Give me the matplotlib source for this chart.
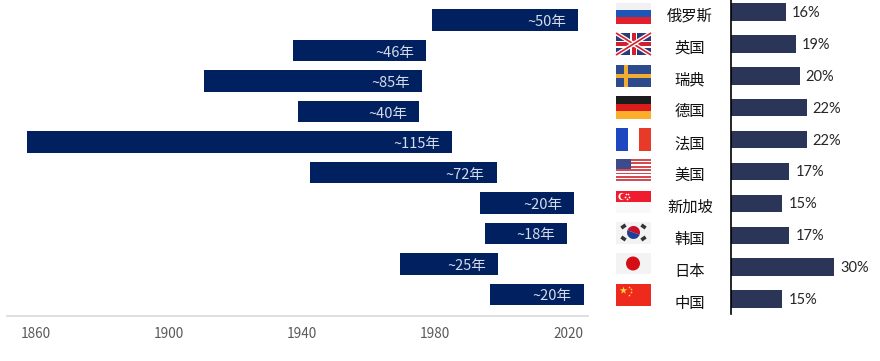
import matplotlib
matplotlib.use('Agg')
import matplotlib.pyplot as plt
import numpy as np
from matplotlib.patches import Rectangle, Circle, Wedge

plt.rcParams['font.family'] = ['Noto Sans CJK SC', 'DejaVu Sans']

# years each bar runs over, top to bottom
start_years = [1979.1, 1937.3, 1910.5, 1938.8, 1857.3, 1942.4, 1993.5, 1995.0, 1969.5, 1996.5]
end_years = [2023.0, 1977.3, 1976.1, 1975.2, 1985.1, 1998.6, 2021.8, 2019.7, 1999.0, 2024.8]
span_labels = ['~50年', '~46年', '~85年', '~40年', '~115年', '~72年', '~20年', '~18年', '~25年', '~20年']
year_ticks = [1860, 1900, 1940, 1980, 2020]

countries = ['俄罗斯', '英国', '瑞典', '德国', '法国', '美国', '新加坡', '韩国', '日本', '中国']
shares = [16, 19, 20, 22, 22, 17, 15, 17, 30, 15]

W, H = 880, 361


def px_axes(fig, left, top, right, bottom):
    return fig.add_axes([left / W, 1 - bottom / H, (right - left) / W, (bottom - top) / H])


fig = plt.figure(figsize=(W / 100, H / 100), dpi=100)

# left: time spans
ax = px_axes(fig, 7, 5, 588, 316)
y = np.arange(len(start_years))
ax.barh(y, np.array(end_years) - np.array(start_years), left=start_years, height=0.69, color='#002060')
for i in y:
    ax.annotate(span_labels[i], (end_years[i], i), xytext=(-12, -2), textcoords='offset pixels',
                ha='right', va='center', color='#d5dbe8', fontsize=10.5, fontweight='light')
ax.set_xlim(1851.3, 2026)
ax.set_ylim(9.705, -0.492)
ax.set_xticks(year_ticks)
ax.set_yticks([])
ax.tick_params(axis='x', length=0, pad=8, labelsize=9.8, labelcolor='#595959')
for s in ['top', 'left', 'right']:
    ax.spines[s].set_visible(False)
ax.spines['bottom'].set_color('#d9d9d9')
ax.spines['bottom'].set_linewidth(1.2)

# right: shares
ax2 = px_axes(fig, 731, 0, 880, 314)
y2 = np.arange(len(shares))
ax2.barh(y2, shares, height=0.55, color='#2a3558')
for i in y2:
    ax2.annotate(f'{shares[i]}%', (shares[i], i), xytext=(6, -1), textcoords='offset pixels',
                 ha='left', va='center', color='#262626', fontsize=10.5, family='Lato')
    ax2.annotate(countries[i], (0, i), xytext=(-41, -4), textcoords='offset pixels',
                 ha='center', va='center', color='#111111', fontsize=11, fontweight='medium',
                 annotation_clip=False)
ax2.set_xlim(0, 43.4)
ax2.set_ylim(9.467, -0.376)
ax2.set_xticks([])
ax2.set_yticks([])
for s in ['top', 'bottom', 'right']:
    ax2.spines[s].set_visible(False)
ax2.spines['left'].set_color('black')
ax2.spines['left'].set_linewidth(1.2)

# flags, drawn in pixel coordinates
fl = px_axes(fig, 0, 0, W, H)
fl.set_xlim(0, W)
fl.set_ylim(H, 0)
fl.axis('off')
fl.patch.set_alpha(0)
L, R = 616, 651
FW = R - L


def rect(x, y, w, h, c):
    fl.add_patch(Rectangle((x, y), w, h, color=c, lw=0))


# russia
rect(L, 3, FW, 7, '#f1f1f4')
rect(L, 10, FW, 7, '#1d55b8')
rect(L, 17, FW, 7, '#e0202c')

# uk
rect(L, 33, FW, 22, '#2b3a78')
for a, b in [((L, 33), (R, 55)), ((L, 55), (R, 33))]:
    fl.plot([a[0], b[0]], [a[1], b[1]], color='white', lw=3.2, solid_capstyle='butt')
    fl.plot([a[0], b[0]], [a[1], b[1]], color='#d3202e', lw=1.2, solid_capstyle='butt')
rect(L + 14, 33, 7, 22, 'white')
rect(L, 40.5, FW, 7, 'white')
rect(L + 15.5, 33, 4, 22, '#d3202e')
rect(L, 42, FW, 4, '#d3202e')

# sweden
rect(L, 65, FW, 22, '#2d4a8c')
rect(L + 8, 65, 4, 22, '#f0ac33')
rect(L, 74, FW, 4, '#f0ac33')

# germany
rect(L, 96, FW, 7.5, '#1c1c1c')
rect(L, 103.5, FW, 7.5, '#dc1c1c')
rect(L, 111, FW, 7.5, '#fbae2c')

# france
rect(L, 128, 12, 23, '#1e46c0')
rect(L + 23, 128, 12, 23, '#e83a28')

# usa
for k in range(7):
    rect(L, 159 + k * 3.4, FW, 1.7, '#d34a50')
rect(L, 159, 15, 10, '#3d4a8c')

# singapore
rect(L, 191, FW, 11, '#ee1c2e')
rect(L, 202, FW, 11, '#f9f9f9')
fl.add_patch(Circle((L + 6, 196.5), 3.6, color='white', lw=0))
fl.add_patch(Circle((L + 7.5, 196.5), 3.2, color='#ee1c2e', lw=0))
fl.scatter([L + 10, L + 12, L + 9, L + 11, L + 13], [194, 194, 197, 199, 197], s=1.5, color='white', lw=0)

# korea
rect(L, 222, FW, 22, '#f3f3f3')
fl.add_patch(Wedge((L + 17.5, 232.5), 6.5, 200, 20, color='#c8102e', lw=0))
fl.add_patch(Wedge((L + 17.5, 232.5), 6.5, 20, 200, color='#1f3f96', lw=0))
for dx, dy, ang in [(-10, -6, -35), (10, -6, 35), (-10, 6, 35), (10, 6, -35)]:
    d = np.array([np.cos(np.radians(ang)), np.sin(np.radians(ang))]) * 2.6
    fl.plot([L + 17.5 + dx - d[0], L + 17.5 + dx + d[0]], [232.5 + dy - d[1], 232.5 + dy + d[1]],
            color='#333333', lw=2.6, solid_capstyle='butt')

# japan
rect(L, 253, FW, 21, '#f3f3f3')
fl.add_patch(Circle((L + 17, 263.5), 7, color='#d40e14', lw=0))

# china
rect(L, 284, FW, 22, '#ee2a1e')
fl.scatter([L + 7], [290], s=32, marker='*', color='#ffd83a', lw=0)
fl.scatter([L + 13, L + 15, L + 15, L + 13], [286.5, 289, 292, 294.5], s=4, marker='*', color='#ffd83a', lw=0)

fig.savefig('out.png', dpi=100)
